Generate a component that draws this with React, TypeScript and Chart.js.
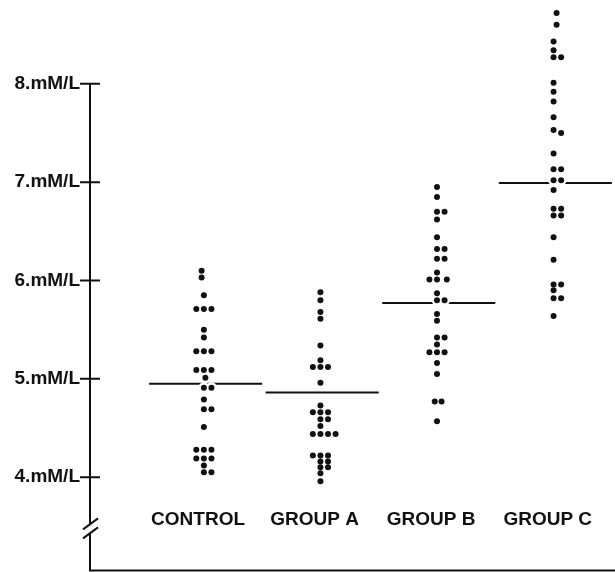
import { useEffect, useRef } from "react";
import { Chart, registerables } from "chart.js";

Chart.register(...registerables);

// ---- data ----
const CATEGORIES = ["CONTROL", "GROUP A", "GROUP B", "GROUP C"];
const Y_TICKS = [4, 5, 6, 7, 8];
const TICK_SUFFIX = ".mM/L";

const CONTROL_VALUES = [
  6.1, 6.03, 5.85, 5.71, 5.71, 5.71, 5.5, 5.42, 5.28, 5.28, 5.28, 5.09, 5.09, 5.09, 5.01,
  4.91, 4.91, 4.79, 4.69, 4.69, 4.51, 4.28, 4.28, 4.28, 4.19, 4.19, 4.19, 4.12, 4.05, 4.05,
];
const CONTROL_COLS = [
  -0.3, -0.3, 0, -1, 0, 1, 0, 0, -1, 0, 1, -1, 0, 1, 0.2,
  0, 1, 0, 0, 1, 0, -1, 0, 1, -1, 0, 1, 0, 0, 1,
];

const GROUP_A_VALUES = [
  5.88, 5.8, 5.68, 5.61, 5.34, 5.19, 5.12, 5.12, 5.12, 4.96, 4.73, 4.66, 4.66, 4.66, 4.59,
  4.59, 4.52, 4.44, 4.44, 4.44, 4.44, 4.22, 4.22, 4.22, 4.16, 4.16, 4.1, 4.1, 4.04, 3.96,
];
const GROUP_A_COLS = [
  0, 0, 0, 0, 0, 0, -1, 0, 1, 0, 0, -1, 0, 1, 0,
  1, 0, -1, 0, 1, 2, -1, 0, 1, 0, 1, 0, 1, 0, 0,
];

const GROUP_B_VALUES = [
  6.95, 6.85, 6.7, 6.7, 6.62, 6.44, 6.32, 6.32, 6.22, 6.22, 6.08, 6.01, 6.01, 6.01, 5.87,
  5.8, 5.8, 5.66, 5.59, 5.42, 5.42, 5.35, 5.27, 5.27, 5.27, 5.16, 5.05, 4.77, 4.77, 4.57,
];
const GROUP_B_COLS = [
  0, 0, 0, 1, 0, 0, 0, 1, 0, 1, 0, -1, 0, 1.3, 0,
  0, 1, 0, 0, 0, 1, 0, -1, 0, 1, 0, 0, -0.3, 0.6, 0,
];

const GROUP_C_VALUES = [
  8.72, 8.6, 8.43, 8.34, 8.27, 8.27, 8.01, 7.92, 7.82, 7.66, 7.53, 7.5, 7.29, 7.13, 7.13,
  7.02, 7.02, 6.92, 6.73, 6.73, 6.66, 6.66, 6.44, 6.21, 5.96, 5.96, 5.9, 5.82, 5.82, 5.64,
];
const GROUP_C_COLS = [
  0.4, 0.4, 0, 0, 0, 1, 0, 0, 0, 0, 0, 1, 0, 0, 1,
  0, 1, 0, 0, 1, 0, 1, 0, 0, 0, 1, 0, 0, 1, 0,
];

const MEANS = [4.95, 4.86, 5.77, 6.99];

// ---- layout / style constants ----
const INK = "#111111";
const DOT_STEP = 0.065; // horizontal step between stacked dot columns (category units)
const MEAN_LEFT = -0.47;
const MEAN_RIGHT = 0.5;
const X_MIN = -0.977;
const X_MAX = 3.48;
const Y_MIN = 3.092;
const Y_MAX = 8.796;
const AXIS_FLOOR = 3.051;
const BREAK_UPPER = 3.525;
const BREAK_LOWER = 3.434;
const LABEL_LEVEL = 3.57;
const LABEL_SHIFT = -0.05;
const FONT_FAMILY = '"Liberation Sans", Arial, sans-serif';

const GROUPS = [
  { values: CONTROL_VALUES, cols: CONTROL_COLS },
  { values: GROUP_A_VALUES, cols: GROUP_A_COLS },
  { values: GROUP_B_VALUES, cols: GROUP_B_COLS },
  { values: GROUP_C_VALUES, cols: GROUP_C_COLS },
];

const decorPlugin = {
  id: "decor",
  afterDraw(chart: any) {
    const { ctx, chartArea, scales } = chart;
    const xs = scales.x;
    const ys = scales.y;
    const ax = chartArea.left;
    ctx.save();
    ctx.strokeStyle = INK;
    ctx.lineWidth = 2;
    ctx.lineCap = "butt";
    ctx.beginPath();
    const top = ys.getPixelForValue(Y_TICKS[Y_TICKS.length - 1]);
    const floor = ys.getPixelForValue(AXIS_FLOOR);
    ctx.moveTo(ax, top - 1);
    ctx.lineTo(ax, ys.getPixelForValue(BREAK_UPPER));
    ctx.moveTo(ax, ys.getPixelForValue(BREAK_LOWER));
    ctx.lineTo(ax, floor);
    ctx.lineTo(chart.width, floor);
    for (const t of Y_TICKS) {
      const py = ys.getPixelForValue(t);
      ctx.moveTo(ax - 10, py);
      ctx.lineTo(ax + 10, py);
    }
    for (const b of [BREAK_UPPER, BREAK_LOWER]) {
      const py = ys.getPixelForValue(b);
      ctx.moveTo(ax - 7, py + 5.5);
      ctx.lineTo(ax + 8, py - 5.5);
    }
    ctx.stroke();

    ctx.fillStyle = INK;
    ctx.font = `bold 19px ${FONT_FAMILY}`;
    ctx.textAlign = "center";
    ctx.textBaseline = "middle";
    CATEGORIES.forEach((c, i) => {
      ctx.fillText(c, xs.getPixelForValue(i + LABEL_SHIFT), ys.getPixelForValue(LABEL_LEVEL));
    });
    ctx.restore();
  },
};

export default function App() {
  const ref = useRef<HTMLCanvasElement | null>(null);

  useEffect(() => {
    document.body.style.margin = "0";
    const canvas = ref.current;
    if (!canvas) return;

    const dotData = GROUPS.map((g, i) =>
      g.values.map((v, k) => ({ x: i + g.cols[k] * DOT_STEP, y: v }))
    );

    const datasets: any[] = [];
    MEANS.forEach((m, i) => {
      datasets.push({
        type: "line",
        label: `${CATEGORIES[i]} mean`,
        data: [
          { x: i + MEAN_LEFT, y: m },
          { x: i + MEAN_RIGHT, y: m },
        ],
        borderColor: INK,
        borderWidth: 2,
        pointRadius: 0,
        fill: false,
        clip: false,
        order: 3,
      });
    });
    dotData.forEach((d, i) => {
      datasets.push({
        type: "scatter",
        label: `${CATEGORIES[i]} halo`,
        data: d,
        backgroundColor: "#ffffff",
        borderWidth: 0,
        pointRadius: 5.5,
        clip: false,
        order: 2,
      });
    });
    dotData.forEach((d, i) => {
      datasets.push({
        type: "scatter",
        label: CATEGORIES[i],
        data: d,
        backgroundColor: INK,
        borderWidth: 0,
        pointRadius: 3,
        clip: false,
        order: 1,
      });
    });

    const chart = new Chart(canvas, {
      type: "scatter",
      data: { datasets },
      plugins: [decorPlugin],
      options: {
        responsive: false,
        animation: false,
        layout: { padding: 0 },
        plugins: { legend: { display: false }, tooltip: { enabled: false } },
        scales: {
          x: { type: "linear", min: X_MIN, max: X_MAX, display: false },
          y: {
            type: "linear",
            min: Y_MIN,
            max: Y_MAX,
            afterFit(scale: any) {
              scale.width = 90;
              scale.paddingTop = 0;
              scale.paddingBottom = 0;
            },
            afterBuildTicks(scale: any) {
              scale.ticks = Y_TICKS.map((v) => ({ value: v }));
            },
            ticks: {
              callback: (v: any) => `${v}${TICK_SUFFIX}`,
              color: INK,
              padding: 10,
              font: { family: FONT_FAMILY, weight: "bold", size: 19 },
            },
            grid: { display: false, drawTicks: false },
            border: { display: false },
          },
        },
      },
    });
    return () => chart.destroy();
  }, []);

  return (
    <div style={{ position: "absolute", left: 0, top: 0, background: "#fff" }}>
      <canvas ref={ref} width={615} height={572} style={{ display: "block" }} />
    </div>
  );
}
